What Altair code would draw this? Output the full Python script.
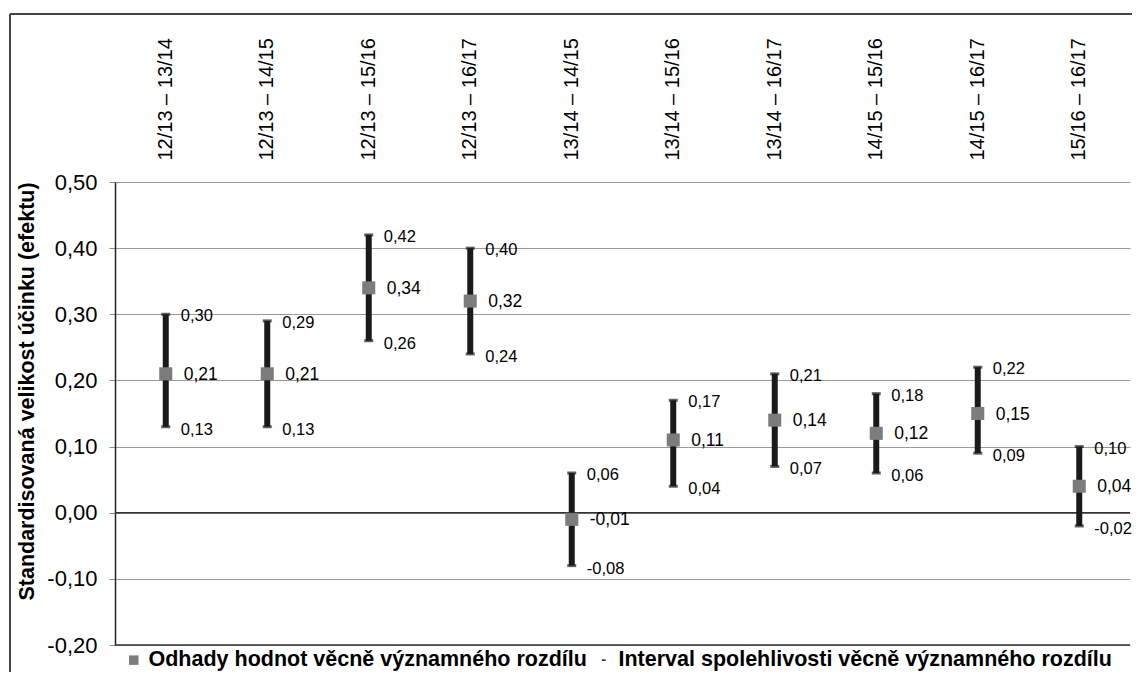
import altair as alt
import pandas as pd

categories = ["12/13 – 13/14", "12/13 – 14/15", "12/13 – 15/16", "12/13 – 16/17",
              "13/14 – 14/15", "13/14 – 15/16", "13/14 – 16/17",
              "14/15 – 15/16", "14/15 – 16/17", "15/16 – 16/17"]
estimates = [0.21, 0.21, 0.34, 0.32, -0.01, 0.11, 0.14, 0.12, 0.15, 0.04]
lower = [0.13, 0.13, 0.26, 0.24, -0.08, 0.04, 0.07, 0.06, 0.09, -0.02]
upper = [0.30, 0.29, 0.42, 0.40, 0.06, 0.17, 0.21, 0.18, 0.22, 0.10]
series_names = ["Odhady hodnot věcně významného rozdílu",
                "Interval spolehlivosti věcně významného rozdílu"]
y_ticks = [-0.2, -0.1, 0.0, 0.1, 0.2, 0.3, 0.4, 0.5]
zero_line = [0.0]

FONT = "Liberation Sans"


def fmt(v):
    return f"{v:.2f}".replace(".", ",")


df = pd.DataFrame({
    "cat": categories,
    "est": estimates,
    "lo": lower,
    "hi": upper,
    "est_t": [fmt(v) for v in estimates],
    "lo_t": [fmt(v) for v in lower],
    "hi_t": [fmt(v) for v in upper],
})

x_enc = alt.X("cat:N", sort=categories,
              scale=alt.Scale(paddingInner=0, paddingOuter=0),
              axis=alt.Axis(orient="top", labelAngle=-90, labelAlign="left",
                            labelBaseline="middle", labelPadding=22,
                            labelFontSize=20, labelFont=FONT, labelColor="black",
                            domain=False, ticks=False, grid=False, title=None))
y_scale = alt.Scale(domain=[-0.2, 0.5], nice=False, zero=False)
y_axis = alt.Axis(values=y_ticks,
                  labelExpr="replace(replace(format(datum.value, '.2f'), '.', ','), '\u2212', '-')",
                  labelFontSize=22, labelFont=FONT, labelColor="black",
                  labelPadding=12, tickSize=6, tickColor="#8c8c8c",
                  domainColor="#222222", domainWidth=1.5,
                  gridColor="#9a9a9a", gridWidth=1.2,
                  title="Standardisovaná velikost účinku (efektu)",
                  titleFontSize=21.5, titleFont=FONT, titleFontWeight="bold",
                  titleColor="black", titlePadding=8, titleY=209)

base = alt.Chart(df).encode(x=x_enc)

bars = base.mark_rule(color="#1a1a1a", strokeWidth=6).encode(
    y=alt.Y("lo:Q", scale=y_scale, axis=y_axis), y2="hi:Q")
cap_hi = base.mark_tick(color="#1a1a1a", thickness=3, size=9).encode(
    y=alt.Y("hi:Q", scale=y_scale))
cap_lo = base.mark_tick(color="#1a1a1a", thickness=3, size=9).encode(
    y=alt.Y("lo:Q", scale=y_scale))
markers = base.mark_square(color="#7c7c7c", size=170, opacity=1).encode(
    y=alt.Y("est:Q", scale=y_scale))

hi_text = base.mark_text(align="left", baseline="middle", dx=15, dy=2,
                         fontSize=16.5, font=FONT, color="black").encode(
    y=alt.Y("hi:Q", scale=y_scale), text="hi_t:N")
lo_text = base.mark_text(align="left", baseline="middle", dx=15, dy=3,
                         fontSize=16.5, font=FONT, color="black").encode(
    y=alt.Y("lo:Q", scale=y_scale), text="lo_t:N")
est_text = base.mark_text(align="left", baseline="middle", dx=18, dy=1,
                          fontSize=17.5, font=FONT, color="black").encode(
    y=alt.Y("est:Q", scale=y_scale), text="est_t:N")

zero = alt.Chart(pd.DataFrame({"z": zero_line})).mark_rule(
    color="#333333", strokeWidth=1.6).encode(y=alt.Y("z:Q", scale=y_scale))
bottom = alt.Chart(pd.DataFrame({"z": [y_ticks[0]]})).mark_rule(
    color="#333333", strokeWidth=1.6).encode(y=alt.Y("z:Q", scale=y_scale))

legend_df = pd.DataFrame({"s": series_names})
leg_props = dict(title=None, orient="none", legendX=8, legendY=467,
                 direction="horizontal", labelFontSize=21.5, labelFont=FONT,
                 labelFontWeight="bold", labelColor="black",
                 symbolSize=90, symbolOpacity=1,
                 columnPadding=6, labelOffset=4, labelLimit=700)
legend_layer = alt.Chart(legend_df).mark_point(filled=True, opacity=0).encode(
    color=alt.Color("s:N", scale=alt.Scale(domain=series_names,
                                           range=["#7c7c7c", "#1a1a1a"]),
                    legend=alt.Legend(**leg_props)),
    shape=alt.Shape("s:N", scale=alt.Scale(domain=series_names,
                                           range=["square", "M-0.4,-0.16H0.4V0.16H-0.4Z"]),
                    legend=alt.Legend(**leg_props)),
)

frame_top = alt.Chart(legend_df).mark_rule(color="#444444", strokeWidth=2).encode(
    x=alt.value(-105), x2=alt.value(1017), y=alt.value(-168))
frame_left = alt.Chart(legend_df).mark_rule(color="#444444", strokeWidth=2).encode(
    x=alt.value(-105), y=alt.value(-168), y2=alt.value(490))

chart = alt.layer(zero, bottom, bars, cap_hi, cap_lo, markers,
                  hi_text, lo_text, est_text, legend_layer,
                  frame_top, frame_left).properties(
    width=1015, height=463,
    autosize=alt.AutoSizeParams(type="none"),
    padding={"left": 107, "top": 174, "right": 2, "bottom": 27},
    background="white",
).configure_view(stroke=None)

chart.save("out.html", embed_options={"renderer": "svg", "actions": False})
